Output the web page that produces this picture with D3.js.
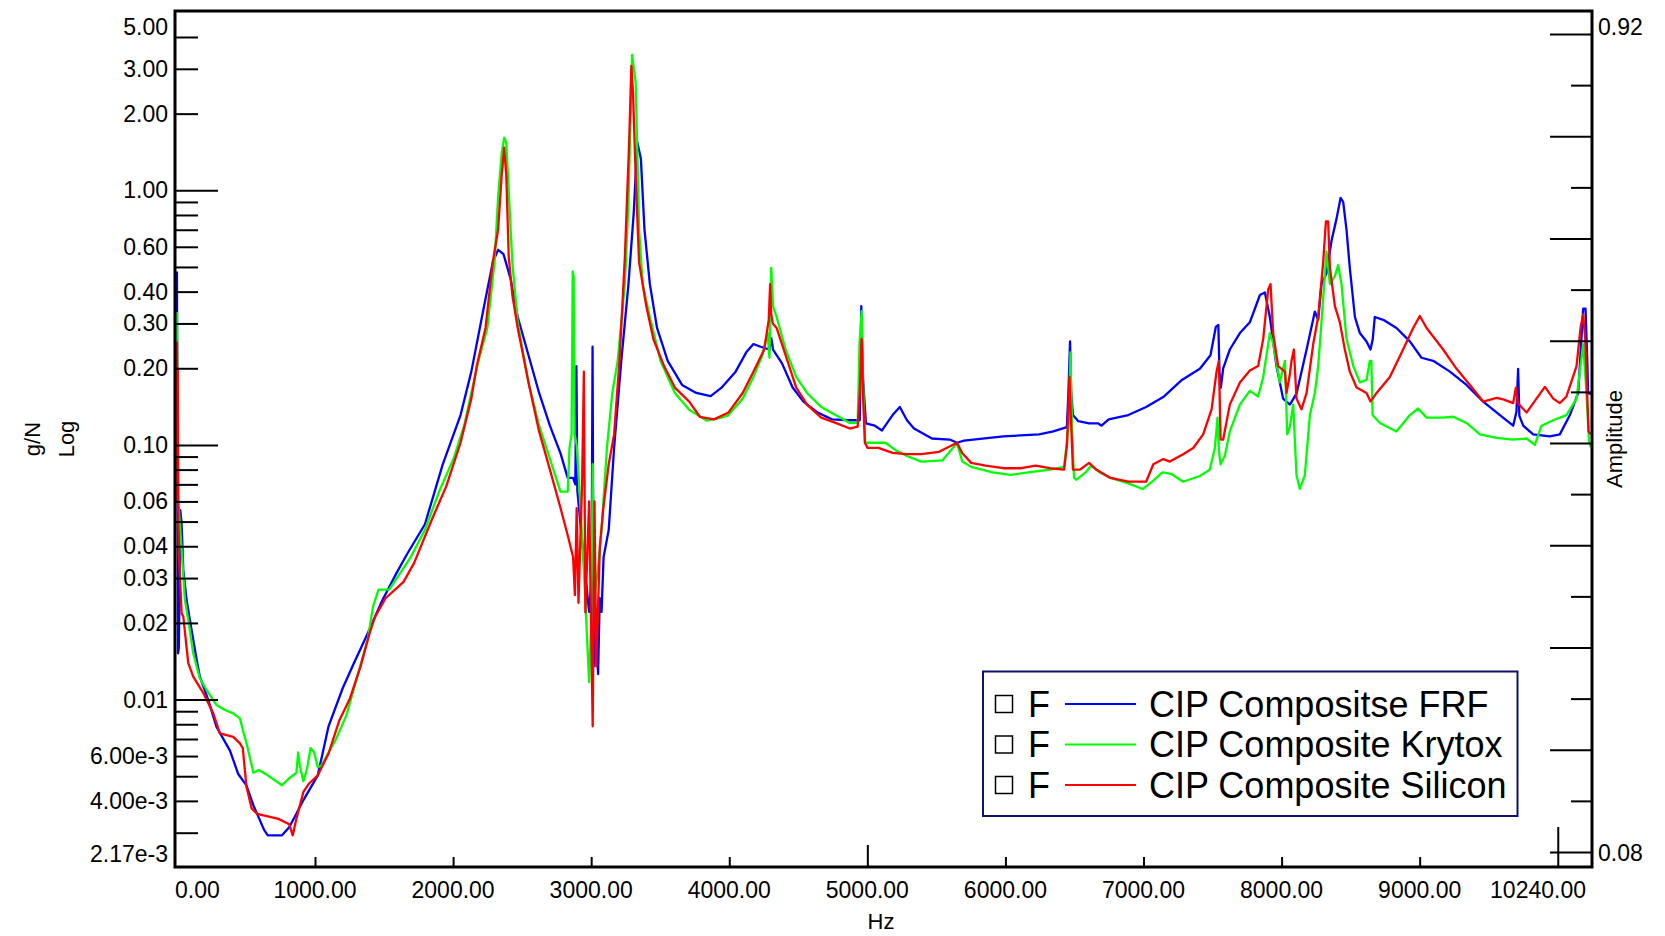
<!DOCTYPE html>
<html>
<head>
<meta charset="utf-8">
<script src="https://cdnjs.cloudflare.com/ajax/libs/d3/7.8.5/d3.min.js"></script>
<style>
  body { margin: 0; background: #fff; }
  svg { display: block; }
  text { font-family: "Liberation Sans", Arial, sans-serif; fill: #000; }
</style>
</head>
<body>
<div id="my_dataviz"></div>
<script>
// ---- data (Hz, g/N) ----
var frfHz = [0,4,8,14,24,33,46,70,94,143,166,227,287,384,444,503,554,632,658,761,813,865,916,1020,1098,1201,1279,1382,1485,1589,1666,1796,1925,2054,2132,2209,2287,2326,2365,2416,2468,2546,2623,2701,2778,2830,2869,2885,2893,2900,2945,2985,3003,3010,3018,3035,3050,3062,3075,3090,3127,3166,3218,3270,3308,3334,3360,3386,3425,3477,3554,3658,3761,3865,3942,4046,4123,4175,4227,4291,4305,4317,4382,4459,4537,4640,4744,4873,4945,4956,4969,4990,5054,5106,5183,5235,5287,5338,5468,5597,5649,5700,5985,6244,6347,6445,6456,6468,6476,6489,6528,6606,6670,6696,6748,6890,7019,7149,7278,7408,7485,7524,7542,7550,7560,7577,7625,7698,7770,7843,7879,7915,7963,8011,8060,8108,8181,8241,8265,8289,8325,8362,8398,8427,8446,8470,8494,8531,8567,8615,8644,8660,8675,8736,8832,8929,9013,9098,9219,9339,9460,9581,9677,9701,9713,9722,9750,9822,9943,10015,10088,10148,10184,10201,10213,10220,10240]
var frfVal = [0.48,0.1,0.0152,0.016,0.0555,0.05,0.0323,0.0246,0.0205,0.0143,0.0123,0.00995,0.0078,0.0063,0.0051,0.0046,0.00384,0.00307,0.00293,0.00293,0.00315,0.00356,0.00403,0.00504,0.00785,0.0111,0.0138,0.0182,0.0244,0.0313,0.0372,0.0488,0.0839,0.131,0.194,0.318,0.521,0.584,0.561,0.45,0.318,0.225,0.16,0.119,0.0927,0.0742,0.0742,0.07,0.204,0.066,0.0363,0.0221,0.03,0.243,0.0135,0.02,0.0126,0.025,0.0221,0.0363,0.0464,0.0973,0.214,0.428,0.813,1.545,1.331,0.701,0.428,0.288,0.214,0.172,0.16,0.1555,0.1675,0.194,0.231,0.249,0.243,0.237,0.262,0.237,0.209,0.168,0.148,0.134,0.126,0.125,0.125,0.351,0.18,0.1216,0.119,0.114,0.131,0.141,0.125,0.116,0.106,0.105,0.102,0.104,0.108,0.11,0.113,0.1175,0.16,0.255,0.16,0.131,0.124,0.1216,0.1216,0.119,0.126,0.131,0.141,0.155,0.18,0.199,0.225,0.291,0.296,0.194,0.168,0.2,0.237,0.275,0.303,0.388,0.397,0.318,0.204,0.152,0.144,0.159,0.237,0.334,0.31,0.428,0.472,0.635,0.774,0.933,0.9,0.701,0.496,0.318,0.275,0.255,0.237,0.26,0.318,0.31,0.288,0.255,0.22,0.214,0.194,0.172,0.148,0.131,0.119,0.135,0.199,0.13,0.119,0.11,0.108,0.11,0.131,0.16,0.343,0.343,0.22,0.16,0.158]

var krytoxHz = [0,4,10,34,58,82,118,166,215,287,348,408,456,480,503,554,593,658,761,813,865,878,890,916,942,968,994,1020,1046,1149,1227,1304,1382,1421,1460,1537,1589,1692,1796,1899,2003,2080,2132,2184,2248,2300,2326,2352,2370,2385,2403,2429,2468,2546,2623,2701,2778,2830,2843,2858,2866,2873,2880,2895,2920,2950,2985,3000,3011,3022,3050,3075,3114,3153,3192,3244,3270,3296,3322,3347,3373,3425,3502,3606,3710,3839,3942,3994,4097,4175,4240,4278,4291,4304,4317,4343,4408,4485,4563,4666,4770,4873,4930,4943,4959,4966,4984,5028,5132,5209,5287,5390,5545,5623,5649,5688,5752,5908,6037,6166,6321,6425,6458,6471,6484,6497,6515,6580,6619,6683,6761,6890,6994,7071,7136,7200,7287,7408,7480,7517,7536,7546,7558,7589,7625,7698,7770,7830,7867,7915,7939,7987,8024,8041,8060,8084,8108,8132,8168,8205,8241,8265,8289,8325,8350,8386,8410,8434,8470,8519,8567,8615,8639,8650,8659,8712,8832,8929,8989,9050,9170,9243,9339,9436,9557,9677,9774,9834,9882,9967,10063,10136,10184,10208,10227,10240]
var krytoxVal = [0.333,0.15,0.06,0.0386,0.0246,0.0205,0.0152,0.0121,0.0109,0.00951,0.0091,0.00883,0.00844,0.0075,0.00677,0.00516,0.00529,0.00504,0.00461,0.00491,0.00516,0.0062,0.0055,0.00478,0.00535,0.00645,0.0062,0.00542,0.0055,0.00694,0.00867,0.0122,0.0173,0.0233,0.027,0.027,0.0298,0.0362,0.0464,0.0656,0.0882,0.119,0.16,0.214,0.288,0.521,0.943,1.4,1.61,1.54,0.99,0.521,0.303,0.176,0.119,0.0882,0.0656,0.0656,0.0973,0.11,0.48,0.46,0.11,0.1,0.06,0.03,0.0117,0.02,0.084,0.025,0.033,0.0464,0.0973,0.16,0.214,0.428,0.897,3.4,2.66,0.7,0.428,0.318,0.214,0.16,0.1375,0.1245,0.128,0.131,0.152,0.185,0.225,0.275,0.22,0.496,0.35,0.318,0.237,0.185,0.16,0.141,0.131,0.122,0.122,0.249,0.335,0.2,0.102,0.102,0.102,0.095,0.0905,0.086,0.087,0.098,0.102,0.086,0.082,0.078,0.0763,0.078,0.08,0.082,0.12,0.231,0.11,0.0742,0.073,0.078,0.0827,0.078,0.0742,0.0706,0.0671,0.0724,0.078,0.077,0.0717,0.0755,0.08,0.0973,0.128,0.095,0.0839,0.0905,0.113,0.144,0.163,0.155,0.185,0.275,0.25,0.176,0.214,0.11,0.118,0.144,0.076,0.0672,0.076,0.131,0.16,0.204,0.303,0.575,0.428,0.46,0.508,0.428,0.261,0.204,0.176,0.18,0.214,0.214,0.131,0.122,0.113,0.131,0.139,0.128,0.128,0.129,0.122,0.11,0.1065,0.105,0.106,0.1,0.119,0.125,0.131,0.152,0.249,0.16,0.102,0.098]

var siliconHz = [0,3,6,10,14,34,46,82,118,191,263,311,408,456,477,503,541,580,658,735,813,839,865,916,955,1020,1098,1175,1253,1330,1395,1434,1511,1641,1718,1848,1951,2054,2132,2171,2235,2287,2326,2352,2370,2385,2403,2429,2468,2546,2623,2701,2778,2830,2869,2882,2895,2908,2934,2947,2958,2985,3011,3024,3037,3063,3088,3127,3166,3205,3244,3275,3291,3303,3322,3347,3399,3451,3528,3606,3710,3787,3890,3994,4097,4175,4253,4286,4296,4303,4315,4343,4408,4485,4563,4666,4770,4873,4930,4945,4959,4970,4982,5002,5080,5183,5287,5390,5520,5649,5688,5752,5856,5985,6114,6218,6321,6425,6446,6463,6476,6489,6540,6606,6658,6761,6890,7019,7071,7143,7191,7287,7360,7432,7493,7529,7546,7558,7577,7625,7698,7770,7830,7867,7903,7920,7939,7975,8024,8036,8060,8072,8089,8108,8144,8181,8229,8265,8301,8321,8337,8350,8386,8422,8458,8494,8543,8615,8644,8688,8784,8880,8953,9001,9050,9170,9267,9364,9460,9557,9605,9677,9697,9710,9774,9846,9907,9967,10015,10063,10136,10165,10184,10199,10213,10223,10240]
var siliconVal = [0.254,0.06,0.2,0.05,0.0376,0.0218,0.0212,0.0139,0.0123,0.0106,0.00883,0.00737,0.00714,0.00673,0.00645,0.00456,0.00374,0.00356,0.00348,0.0034,0.00324,0.00293,0.0034,0.00434,0.00467,0.00504,0.00614,0.00825,0.0101,0.0135,0.0182,0.0211,0.025,0.029,0.0344,0.0512,0.0689,0.102,0.152,0.204,0.288,0.521,0.7,1.15,1.47,1.15,0.548,0.388,0.288,0.176,0.113,0.08,0.0565,0.0442,0.0363,0.0257,0.0565,0.024,0.07,0.194,0.022,0.06,0.00785,0.06,0.0135,0.04,0.0565,0.084,0.11,0.214,0.548,1.545,3.08,2.41,1.15,0.521,0.351,0.26,0.204,0.168,0.148,0.129,0.126,0.134,0.16,0.194,0.237,0.31,0.428,0.33,0.3,0.288,0.225,0.168,0.144,0.128,0.122,0.116,0.118,0.16,0.261,0.15,0.102,0.0973,0.0973,0.093,0.092,0.092,0.094,0.102,0.0927,0.085,0.083,0.081,0.081,0.083,0.081,0.08,0.1,0.185,0.12,0.08,0.08,0.085,0.08,0.0742,0.0717,0.0717,0.084,0.088,0.086,0.092,0.0973,0.11,0.138,0.194,0.214,0.105,0.105,0.144,0.176,0.196,0.204,0.261,0.408,0.428,0.275,0.204,0.194,0.16,0.19,0.214,0.237,0.152,0.138,0.16,0.249,0.318,0.521,0.755,0.755,0.496,0.351,0.303,0.237,0.194,0.168,0.16,0.148,0.16,0.185,0.237,0.288,0.321,0.288,0.237,0.199,0.172,0.148,0.153,0.151,0.146,0.168,0.146,0.134,0.152,0.169,0.152,0.146,0.155,0.204,0.288,0.326,0.26,0.16,0.113,0.11]

var seriesNames = ["CIP Compositse FRF", "CIP Composite Krytox", "CIP Composite Silicon"]
var seriesColors = ["#0000ff", "#00ff00", "#ff0000"]

// tick values and labels
var xTickVals = [1000, 2000, 3000, 4000, 5000, 6000, 7000, 8000, 9000, 10000]
var xTickText = ["1000.00", "2000.00", "3000.00", "4000.00", "5000.00", "6000.00", "7000.00", "8000.00", "9000.00"]
var yLabelVals = [3, 2, 1, 0.6, 0.4, 0.3, 0.2, 0.1, 0.06, 0.04, 0.03, 0.02, 0.01, 0.006, 0.004]
var yLabelText = ["3.00", "2.00", "1.00", "0.60", "0.40", "0.30", "0.20", "0.10", "0.06", "0.04", "0.03", "0.02", "0.01", "6.00e-3", "4.00e-3"]

// set the dimensions of the graph
var width = 1665,
    height = 936
var plot = { left: 175, right: 1592, top: 11, bottom: 867 }

var svg = d3.select("#my_dataviz")
  .append("svg")
    .attr("width", width)
    .attr("height", height)

// scales
var x = d3.scaleLinear().domain([-14, 10248]).range([plot.left, plot.right])
var y = d3.scaleLog().domain([0.0022, 5.06]).range([plot.bottom, plot.top])
var yRight = d3.scaleLinear().domain([0.1, 0.9]).range([852, 34])

svg.append("defs").append("clipPath").attr("id", "clip")
  .append("rect")
    .attr("x", plot.left).attr("y", plot.top)
    .attr("width", plot.right - plot.left).attr("height", plot.bottom - plot.top)

// the curves
var allSeries = [
  d3.zip(frfHz, frfVal),
  d3.zip(krytoxHz, krytoxVal),
  d3.zip(siliconHz, siliconVal)
]
var line = d3.line()
  .x(function(d) { return x(d[0]) })
  .y(function(d) { return y(d[1]) })

svg.append("g")
  .attr("clip-path", "url(#clip)")
  .selectAll("path")
  .data(allSeries)
  .enter()
  .append("path")
    .attr("d", line)
    .attr("fill", "none")
    .attr("stroke", function(d, i) { return seriesColors[i] })
    .attr("stroke-width", 2.3)
    .attr("stroke-linejoin", "round")

// left axis ticks (inward), long ones at decades
var yTicks = y.ticks().filter(function(v) { return v < 4.5 })
var gLeft = svg.append("g")
  .attr("transform", "translate(" + plot.left + ",0)")
  .call(d3.axisLeft(y).tickValues(yTicks).tickSize(-23).tickFormat("").tickSizeOuter(0))
gLeft.select(".domain").remove()
gLeft.selectAll(".tick line")
  .attr("stroke", "#000").attr("stroke-width", 2)
  .attr("x2", function(v) { return Math.abs(Math.log10(v) - Math.round(Math.log10(v))) < 1e-6 ? 43 : 23 })

// bottom axis ticks
var gBottom = svg.append("g")
  .attr("transform", "translate(0," + plot.bottom + ")")
  .call(d3.axisBottom(x).tickValues(xTickVals).tickSize(-10).tickFormat("").tickSizeOuter(0))
gBottom.select(".domain").remove()
gBottom.selectAll(".tick line")
  .attr("stroke", "#000").attr("stroke-width", 2)
  .attr("y2", function(v) { return v == 10000 ? -40 : (v == 5000 ? -22 : -10) })

// right axis ticks
var rightTicks = d3.range(0.1, 0.9001, 0.05)
var gRight = svg.append("g")
  .attr("transform", "translate(" + plot.right + ",0)")
  .call(d3.axisRight(yRight).tickValues(rightTicks).tickSize(-21).tickFormat("").tickSizeOuter(0))
gRight.select(".domain").remove()
gRight.selectAll(".tick line")
  .attr("stroke", "#000").attr("stroke-width", 2)
  .attr("x2", function(v, i) { return i % 2 == 0 ? -42 : -21 })

// frame
svg.append("rect")
  .attr("x", plot.left).attr("y", plot.top)
  .attr("width", plot.right - plot.left).attr("height", plot.bottom - plot.top)
  .attr("fill", "none").attr("stroke", "#000").attr("stroke-width", 3)

// left labels
svg.append("g").selectAll("text")
  .data(yLabelVals)
  .enter()
  .append("text")
    .attr("x", 168)
    .attr("y", function(v) { return y(v) + 8 })
    .attr("text-anchor", "end")
    .style("font-size", "23px")
    .text(function(v, i) { return yLabelText[i] })
svg.append("text").attr("x", 168).attr("y", 35).attr("text-anchor", "end").style("font-size", "23px").text("5.00")
svg.append("text").attr("x", 168).attr("y", 862).attr("text-anchor", "end").style("font-size", "23px").text("2.17e-3")

// bottom labels
svg.append("g").selectAll("text")
  .data(xTickText)
  .enter()
  .append("text")
    .attr("x", function(t, i) { return x(xTickVals[i]) })
    .attr("y", 898)
    .attr("text-anchor", "middle")
    .style("font-size", "23px")
    .text(function(t) { return t })
svg.append("text").attr("x", plot.left).attr("y", 898).style("font-size", "23px").text("0.00")
svg.append("text").attr("x", 1586).attr("y", 898).attr("text-anchor", "end").style("font-size", "23px").text("10240.00")

// right labels
svg.append("text").attr("x", 1598).attr("y", 35).style("font-size", "23px").text("0.92")
svg.append("text").attr("x", 1598).attr("y", 861).style("font-size", "23px").text("0.08")

// axis titles
function vTitle(cx, label) {
  svg.append("text")
    .attr("transform", "translate(" + cx + ",439) rotate(-90)")
    .attr("text-anchor", "middle")
    .attr("dominant-baseline", "central")
    .style("font-size", "22px")
    .text(label)
}
vTitle(32, "g/N")
vTitle(66, "Log")
vTitle(1614, "Amplitude")
svg.append("text").attr("x", 881).attr("y", 929).attr("text-anchor", "middle").style("font-size", "22px").text("Hz")

// legend
var legend = svg.append("g")
legend.append("rect")
  .attr("x", 983).attr("y", 671.5).attr("width", 534.5).attr("height", 144.5)
  .attr("fill", "#fff").attr("stroke", "#10106e").attr("stroke-width", 2)
var rows = legend.selectAll(".row")
  .data(seriesNames)
  .enter()
  .append("g")
    .attr("transform", function(d, i) { return "translate(0," + (704 + i * 40.5) + ")" })
rows.append("rect")
  .attr("x", 995.5).attr("y", -8.5).attr("width", 17).attr("height", 17)
  .attr("fill", "#fff").attr("stroke", "#000").attr("stroke-width", 1.5)
rows.append("text").attr("x", 1028).attr("y", 12.5).style("font-size", "36px").text("F")
rows.append("line")
  .attr("x1", 1065).attr("x2", 1136).attr("y1", 0).attr("y2", 0)
  .attr("stroke", function(d, i) { return seriesColors[i] }).attr("stroke-width", 2)
rows.append("text").attr("x", 1149).attr("y", 12.5).style("font-size", "36px").text(function(d) { return d })
</script>
</body>
</html>
